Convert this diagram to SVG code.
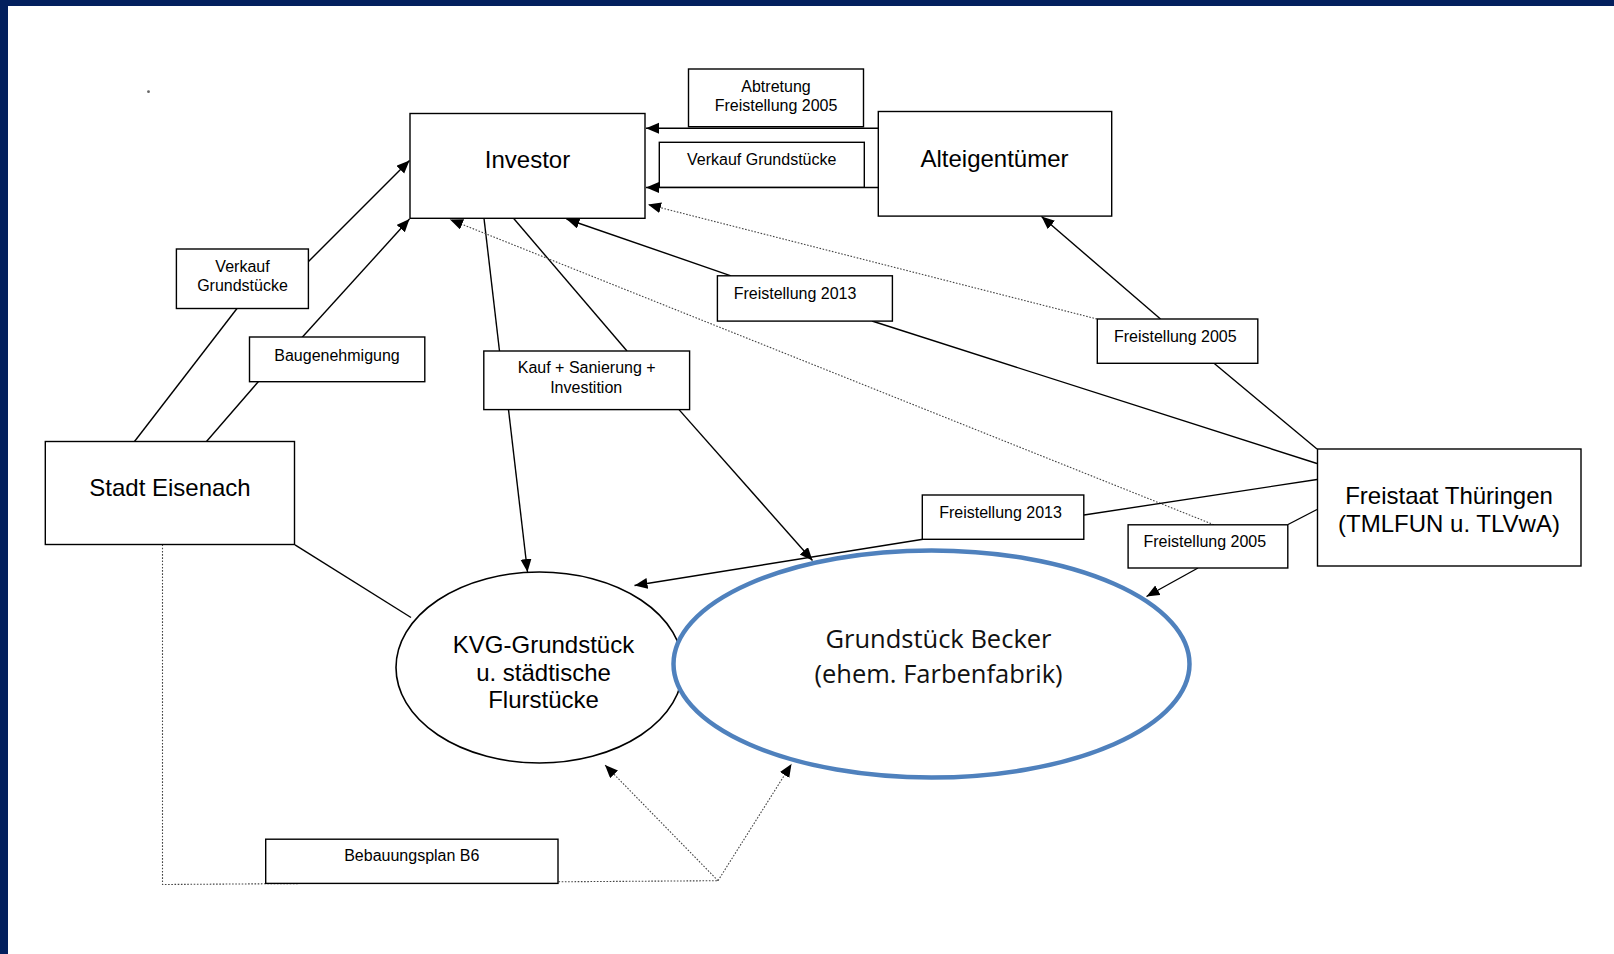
<svg xmlns="http://www.w3.org/2000/svg" width="1614" height="954" viewBox="0 0 1614 954">
<defs>
<marker id="arr" markerUnits="userSpaceOnUse" markerWidth="14" markerHeight="12" refX="13" refY="5.5" orient="auto">
<path d="M0,0 L13,5.5 L0,11 z" fill="#000"/>
</marker>
<style>
.box{fill:#fff;stroke:#000;stroke-width:1.4}
.ell{fill:#fff;stroke:#000;stroke-width:1.6}
.becker{fill:#fff;stroke:#4f81bd;stroke-width:4.5}
.ln{fill:none;stroke:#000;stroke-width:1.4}
.dt{fill:none;stroke:#444;stroke-width:1.1;stroke-dasharray:1.6,1.6}
.big{font-family:"Liberation Sans",Arial,sans-serif;font-size:24px;fill:#000;text-anchor:middle}
.sm{font-family:"Liberation Sans",Arial,sans-serif;font-size:16px;fill:#000;text-anchor:middle}
.cal{font-family:"Open Sans","Noto Sans",sans-serif;font-size:25.5px;fill:#111;text-anchor:middle}
</style>
</defs>
<rect x="0" y="0" width="1614" height="954" fill="#fff"/>
<rect x="0" y="0" width="1614" height="6" fill="#03205e"/>
<rect x="0" y="0" width="8" height="954" fill="#03205e"/>
<circle cx="148.5" cy="91.7" r="1.4" fill="#666"/>

<g id="connectors">
<line class="ln" x1="134.5" y1="441.5" x2="237" y2="308.5"/>
<line class="ln" x1="308" y1="262" x2="409.5" y2="160.5" marker-end="url(#arr)"/>
<line class="ln" x1="206.5" y1="441.5" x2="258.5" y2="381.5"/>
<line class="ln" x1="302" y1="337.5" x2="409.5" y2="219" marker-end="url(#arr)"/>
<line class="ln" x1="484" y1="218.3" x2="499.5" y2="351"/>
<line class="ln" x1="508.5" y1="409.6" x2="527.5" y2="572" marker-end="url(#arr)"/>
<line class="ln" x1="513.5" y1="218.3" x2="627" y2="351"/>
<line class="ln" x1="679" y1="409.6" x2="812.5" y2="560.5" marker-end="url(#arr)"/>
<line class="ln" x1="1317" y1="463.5" x2="872" y2="321"/>
<line class="ln" x1="731" y1="275.8" x2="566.5" y2="219" marker-end="url(#arr)"/>
<line class="ln" x1="1317" y1="449" x2="1214" y2="363.3"/>
<line class="ln" x1="1160.5" y1="319" x2="1041.5" y2="216.5" marker-end="url(#arr)"/>
<line class="dt" x1="1097" y1="319" x2="648" y2="204.5" marker-end="url(#arr)"/>
<line class="dt" x1="1214" y1="524.8" x2="450" y2="219.5" marker-end="url(#arr)"/>
<line class="ln" x1="1317" y1="479.5" x2="1084" y2="515"/>
<line class="ln" x1="923" y1="539.3" x2="634.5" y2="585.5" marker-end="url(#arr)"/>
<line class="ln" x1="1317" y1="509.5" x2="1288" y2="524.5"/>
<line class="ln" x1="1198" y1="568" x2="1146.5" y2="596.5" marker-end="url(#arr)"/>
<line class="ln" x1="878.3" y1="128.3" x2="646" y2="128.3" marker-end="url(#arr)"/>
<line class="ln" x1="878.3" y1="187.5" x2="646" y2="187.5" marker-end="url(#arr)"/>
<line class="ln" x1="295" y1="544.8" x2="411" y2="617.5"/>
<polyline class="dt" points="162.5,544.5 162.5,884.5 718,880.7"/>
<line class="dt" x1="718" y1="880.7" x2="605" y2="765" marker-end="url(#arr)"/>
<line class="dt" x1="718" y1="880.7" x2="791.5" y2="764" marker-end="url(#arr)"/>
</g>

<g id="investor">
<rect class="box" x="410" y="113.5" width="235" height="104.8"/>
<text class="big" x="527.5" y="168">Investor</text>
</g>
<g id="alteigentuemer">
<rect class="box" x="878.3" y="111.5" width="233.4" height="104.6"/>
<text class="big" x="994.5" y="166.5">Alteigentümer</text>
</g>
<g id="stadt-eisenach">
<rect class="box" x="45.3" y="441.5" width="249.2" height="103"/>
<text class="big" x="170" y="495.5">Stadt Eisenach</text>
</g>
<g id="freistaat">
<rect class="box" x="1317.5" y="449" width="263.5" height="117"/>
<text class="big" x="1449" y="503.5">Freistaat Thüringen</text>
<text class="big" x="1449" y="531.5">(TMLFUN u. TLVwA)</text>
</g>
<g id="kvg">
<ellipse class="ell" cx="539.5" cy="667.5" rx="143.5" ry="95.5"/>
<text class="big" x="543.5" y="653">KVG-Grundstück</text>
<text class="big" x="543.5" y="680.6">u. städtische</text>
<text class="big" x="543.5" y="708.4">Flurstücke</text>
</g>
<g id="becker">
<ellipse class="becker" cx="931.5" cy="664" rx="258" ry="113.5"/>
<text class="cal" x="938.5" y="648.3">Grundstück Becker</text>
<text class="cal" x="938.5" y="683.3">(ehem. Farbenfabrik)</text>
</g>

<g id="label-abtretung">
<rect class="box" x="688.5" y="69" width="175" height="57.7"/>
<text class="sm" x="776" y="92">Abtretung</text>
<text class="sm" x="776" y="110.5">Freistellung 2005</text>
</g>
<g id="label-verkauf-top">
<rect class="box" x="659.3" y="142.3" width="205" height="45"/>
<text class="sm" x="761.7" y="165">Verkauf Grundstücke</text>
</g>
<g id="label-verkauf-left">
<rect class="box" x="176.4" y="249" width="132" height="59.5"/>
<text class="sm" x="242.5" y="272">Verkauf</text>
<text class="sm" x="242.5" y="290.5">Grundstücke</text>
</g>
<g id="label-baugenehmigung">
<rect class="box" x="249.5" y="337" width="175.3" height="44.7"/>
<text class="sm" x="337" y="360.5">Baugenehmigung</text>
</g>
<g id="label-kauf">
<rect class="box" x="483.8" y="351" width="205.8" height="58.6"/>
<text class="sm" x="586.7" y="373">Kauf + Sanierung +</text>
<text class="sm" x="586.2" y="392.5">Investition</text>
</g>
<g id="label-freistellung-2013-top">
<rect class="box" x="717.4" y="275.8" width="175" height="45.3"/>
<text class="sm" x="795" y="299">Freistellung 2013</text>
</g>
<g id="label-freistellung-2005-top">
<rect class="box" x="1097.3" y="319" width="160.5" height="44.3"/>
<text class="sm" x="1175.3" y="342">Freistellung 2005</text>
</g>
<g id="label-freistellung-2013-bottom">
<rect class="box" x="922.3" y="495" width="161.5" height="44.3"/>
<text class="sm" x="1000.5" y="518">Freistellung 2013</text>
</g>
<g id="label-freistellung-2005-bottom">
<rect class="box" x="1128.1" y="524.8" width="159.7" height="43.2"/>
<text class="sm" x="1204.8" y="547">Freistellung 2005</text>
</g>
<g id="label-bebauungsplan">
<rect class="box" x="265.7" y="839.2" width="292.3" height="44.2"/>
<text class="sm" x="411.8" y="861">Bebauungsplan B6</text>
</g>
</svg>
